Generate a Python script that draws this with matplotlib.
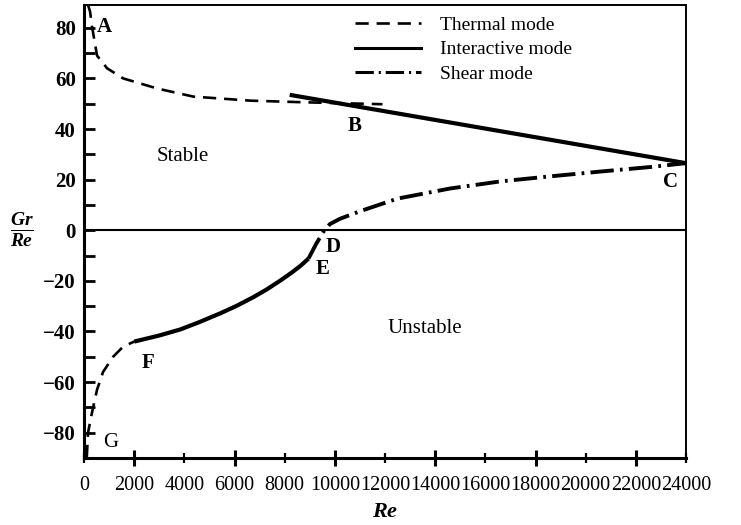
import matplotlib
matplotlib.use("Agg")
import matplotlib.pyplot as plt
from matplotlib.lines import Line2D

plt.rcParams['font.family'] = 'Liberation Serif'
plt.rcParams['mathtext.fontset'] = 'custom'
plt.rcParams['mathtext.it'] = 'Liberation Serif:italic:bold'
plt.rcParams['mathtext.rm'] = 'Liberation Serif:bold'

# thermal mode, upper branch (A -> B)
thermal_up_re = [160, 240, 320, 520, 920, 1560, 2920, 4360, 6640, 9000, 11900]
thermal_up_gr = [89, 86.5, 80.5, 69, 64, 60, 56, 52.8, 51.2, 50.5, 49.8]
# thermal mode, lower branch (G -> F)
thermal_lo_re = [110, 120, 160, 320, 520, 760, 1160, 1560, 2000]
thermal_lo_gr = [-90, -88, -80, -72, -63, -56, -50, -46, -44]
# interactive mode, upper (B -> C)
inter_up_re = [8200, 24000]
inter_up_gr = [53.5, 26.5]
# interactive mode, lower (F -> E)
inter_lo_re = [2000, 3000, 3840, 4600, 5440, 6100, 6760, 7300, 7840, 8300, 8640, 8950]
inter_lo_gr = [-44, -41.6, -39.2, -36.3, -32.8, -29.8, -26.4, -23.3, -19.8, -16.6, -14, -11.2]
# shear mode (E -> D -> C)
shear_re = [8950, 9250, 9550, 9800, 10200, 11000, 12500, 14600, 16600, 18600, 20600, 22600, 24000]
shear_gr = [-11.2, -5.5, -0.5, 2.4, 4.5, 7.5, 12.5, 16.5, 19.3, 21.3, 23.2, 25.0, 26.5]

xticks = list(range(0, 24001, 2000))
yticks = list(range(-80, 81, 20))
ylim = (-90, 89)

fig = plt.figure(figsize=(7.41, 5.25), dpi=100)
ax = fig.add_axes([84/741, 1 - 458/525, 602/741, 453/525])

ax.set_xlim(0, 24000)
ax.set_ylim(*ylim)

th_style = dict(color='black', lw=1.9, dashes=(5, 3))
in_style = dict(color='black', lw=3.0, solid_capstyle='butt')
sh_style = dict(color='black', lw=2.8, dashes=(6, 1.6, 0.7, 1.6))

ax.plot(thermal_up_re, thermal_up_gr, **th_style)
ax.plot(thermal_lo_re, thermal_lo_gr, **th_style)
ax.plot(inter_up_re, inter_up_gr, **in_style)
ax.plot(inter_lo_re, inter_lo_gr, **in_style)
ax.plot(shear_re, shear_gr, **sh_style)
ax.axhline(0, color='black', lw=1.5)

# spines
for s in ['left', 'bottom']:
    ax.spines[s].set_linewidth(2.2)
for s in ['top', 'right']:
    ax.spines[s].set_linewidth(1.4)

ax.set_xticks(xticks)
ax.set_xticklabels([str(v) for v in xticks], fontsize=14.5)
ax.set_yticks(yticks)
ax.set_yticklabels([str(v).replace('-', '\u2212') for v in yticks], fontsize=15, fontweight='bold')
ax.set_yticks(list(range(-80, 81, 10)), minor=True)
ax.tick_params(axis='x', direction='inout', length=12, width=2.2, pad=7)
ax.tick_params(axis='y', which='both', direction='in', length=8, width=2.0, pad=6)
ax.tick_params(top=False, right=False)
for i, t in enumerate(ax.xaxis.get_major_ticks()):
    if i % 2 == 0:
        t.tick1line.set_markersize(7)
        t.tick1line.set_markeredgewidth(1.6)

ax.set_xlabel(r'$Re$', fontsize=16, labelpad=6)
ax.set_ylabel(r'$\frac{Gr}{Re}$', fontsize=20, rotation=0, va='center', ha='center')
ax.yaxis.set_label_coords(-0.103, 0.505)

# point labels
lbl = dict(fontsize=15, fontweight='bold', ha='center', va='center')
ax.text(800, 80.5, 'A', **lbl)
ax.text(10800, 41, 'B', **lbl)
ax.text(23400, 19, 'C', **lbl)
ax.text(9950, -6.5, 'D', **lbl)
ax.text(9500, -15.5, 'E', **lbl)
ax.text(2550, -52.5, 'F', **lbl)
ax.text(1050, -84, 'G', fontsize=15, ha='center', va='center')
ax.text(3950, 29, 'Stable', fontsize=15, ha='center', va='center')
ax.text(13600, -39, 'Unstable', fontsize=15, ha='center', va='center')

handles = [
    Line2D([], [], **th_style),
    Line2D([], [], color='black', lw=2.2),
    Line2D([], [], color='black', lw=2.2, dashes=(6, 1.6, 0.7, 1.6)),
]
ax.legend(handles, ['Thermal mode', 'Interactive mode', 'Shear mode'],
          loc='upper left', bbox_to_anchor=(0.45, 0.975), frameon=False,
          fontsize=14, handlelength=3.4, handletextpad=1.0, labelspacing=0.35,
          borderpad=0, borderaxespad=0)

fig.savefig('out.png', dpi=100)
